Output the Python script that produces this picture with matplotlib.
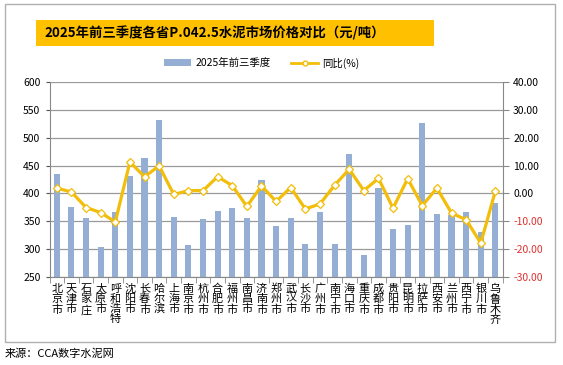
import matplotlib
matplotlib.use("Agg")
import matplotlib.pyplot as plt
from matplotlib.patches import Rectangle
from matplotlib.lines import Line2D
from matplotlib.ticker import FixedLocator, NullFormatter

plt.rcParams['font.family'] = ['Noto Sans CJK SC', 'DejaVu Sans']

cities = ["北京市", "天津市", "石家庄", "太原市", "呼和浩特", "沈阳市", "长春市", "哈尔滨",
          "上海市", "南京市", "杭州市", "合肥市", "福州市", "南昌市", "济南市", "郑州市",
          "武汉市", "长沙市", "广州市", "南宁市", "海口市", "重庆市", "成都市", "贵阳市",
          "昆明市", "拉萨市", "西安市", "兰州市", "西宁市", "银川市", "乌鲁木齐"]
price = [435, 375, 356, 303, 367, 432, 464, 532, 358, 307, 354, 369, 373, 356, 424, 342,
         355, 309, 366, 309, 471, 289, 410, 336, 343, 527, 362, 361, 367, 331, 382]
yoy = [1.9, 0.5, -5.1, -6.9, -10.3, 11.3, 6.0, 9.9, -0.4, 1.0, 1.0, 6.0, 2.8, -4.7, 2.7, -2.9,
       2.1, -5.6, -3.8, 2.9, 8.7, 1.0, 5.4, -5.3, 5.3, -4.4, 1.9, -7.1, -9.5, -17.9, 0.9]
left_ticks = [250, 300, 350, 400, 450, 500, 550, 600]
right_ticks = [-30, -20, -10, 0, 10, 20, 30, 40]

W, H = 563, 365
fig = plt.figure(figsize=(W / 100, H / 100), dpi=100)
fig.patch.set_facecolor('white')

# outer frame
fig.add_artist(Rectangle((5 / W, 1 - 342 / H), 550 / W, 338 / H, transform=fig.transFigure,
                         fill=False, edgecolor='#B0B0B0', linewidth=1.0))
# title banner
fig.add_artist(Rectangle((36 / W, 1 - 46 / H), 398 / W, 26 / H, transform=fig.transFigure,
                         facecolor='#FFC000', edgecolor='none'))
fig.text(44 / W, 1 - 33 / H, "2025年前三季度各省P.042.5水泥市场价格对比（元/吨）",
         fontsize=9.6, fontweight='bold', va='center', ha='left', color='black')

ax = fig.add_axes([49.5 / W, 1 - 276.7 / H, 453.2 / W, 194.4 / H])
x = list(range(len(cities)))
ax.bar(x, price, width=0.42, color='#94AED4', zorder=2)
ax.set_xlim(-0.5, len(cities) - 0.5)
ax.set_ylim(250, 600)
ax.set_yticks(left_ticks)
ax.tick_params(axis='y', labelsize=7.5, colors='#555555', labelcolor='black', length=3)
ax.grid(axis='y', color='#9A9A9A', linewidth=0.9, zorder=0)
ax.set_axisbelow(True)
for s in ['top', 'right']:
    ax.spines[s].set_visible(False)
ax.spines['left'].set_color('#888888')
ax.spines['bottom'].set_color('#888888')
ax.set_xticks(x)
ax.set_xticklabels(["\n".join(c) for c in cities], fontsize=8, linespacing=1.0, va='top')
ax.tick_params(axis='x', length=0, pad=5)
ax.xaxis.set_minor_locator(FixedLocator([i - 0.5 for i in range(len(cities) + 1)]))
ax.xaxis.set_minor_formatter(NullFormatter())
ax.tick_params(axis='x', which='minor', length=4, color='#888888', direction='out')

ax2 = ax.twinx()
ax2.plot(x, yoy, color='#F2BE0A', linewidth=2.3, marker='D', markersize=4,
         markerfacecolor='white', markeredgecolor='#F2BE0A', markeredgewidth=0.9, zorder=3)
ax2.set_ylim(-30, 40)
ax2.set_yticks(right_ticks)
ax2.set_yticklabels([f"{v:.2f}" for v in right_ticks])
for lbl, v in zip(ax2.get_yticklabels(), right_ticks):
    lbl.set_color('#E03030' if v < 0 else 'black')
ax2.tick_params(axis='y', labelsize=7.5, length=4, color='#888888')
for s in ['top', 'left', 'bottom']:
    ax2.spines[s].set_visible(False)
ax2.spines['right'].set_color('#888888')

handles = [Rectangle((0, 0), 1, 1, facecolor='#94AED4', edgecolor='none'),
           Line2D([0], [0], color='#F2BE0A', linewidth=2.0, marker='o', markersize=3.5,
                  markerfacecolor='white', markeredgecolor='#F2BE0A')]
fig.legend(handles, ["2025年前三季度", "同比(%)"], loc='center', bbox_to_anchor=(262 / W, 1 - 63 / H),
           ncol=2, frameon=False, fontsize=7.5, handlelength=2.6, handleheight=0.6,
           columnspacing=2.0, handletextpad=0.4)

fig.text(5 / W, 1 - 354 / H, "来源：CCA数字水泥网", fontsize=8, va='center', ha='left', color='black')

fig.savefig("out.png", dpi=100, facecolor='white')
